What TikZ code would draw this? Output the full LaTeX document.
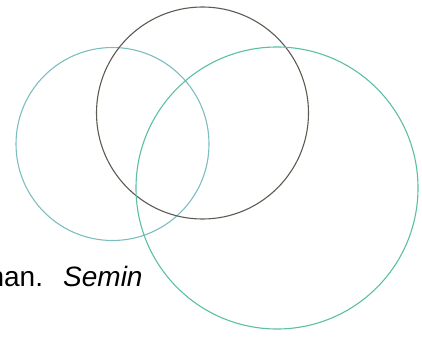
\documentclass[tikz,border=0pt]{standalone}
\usepackage{fontspec}
\setmainfont{Liberation Sans}
\definecolor{cleft}{HTML}{7DBDC0}
\definecolor{ctop}{HTML}{5E5A52}
\definecolor{cright}{HTML}{5BBFA6}
\begin{document}
\begin{tikzpicture}[x=1pt,y=-1pt,
  ring/.style={line width=1.1pt},
  lbl/.style={inner sep=0pt,anchor=base west,font=\fontsize{28}{28}\selectfont}]
\useasboundingbox (0,0) rectangle (422,337);
\clip (0,0) rectangle (422,337);
\draw[ring,cleft] (112.5,144) circle[radius=96.5];
\draw[ring,ctop] (202.5,113) circle[radius=106];
\draw[ring,cright] (277,188) circle[radius=141];
\node[lbl] (t1) at (-11.6,286) {nan.};
\node[lbl] (t2) at (63,286) {\itshape Semin};
\end{tikzpicture}
\end{document}
